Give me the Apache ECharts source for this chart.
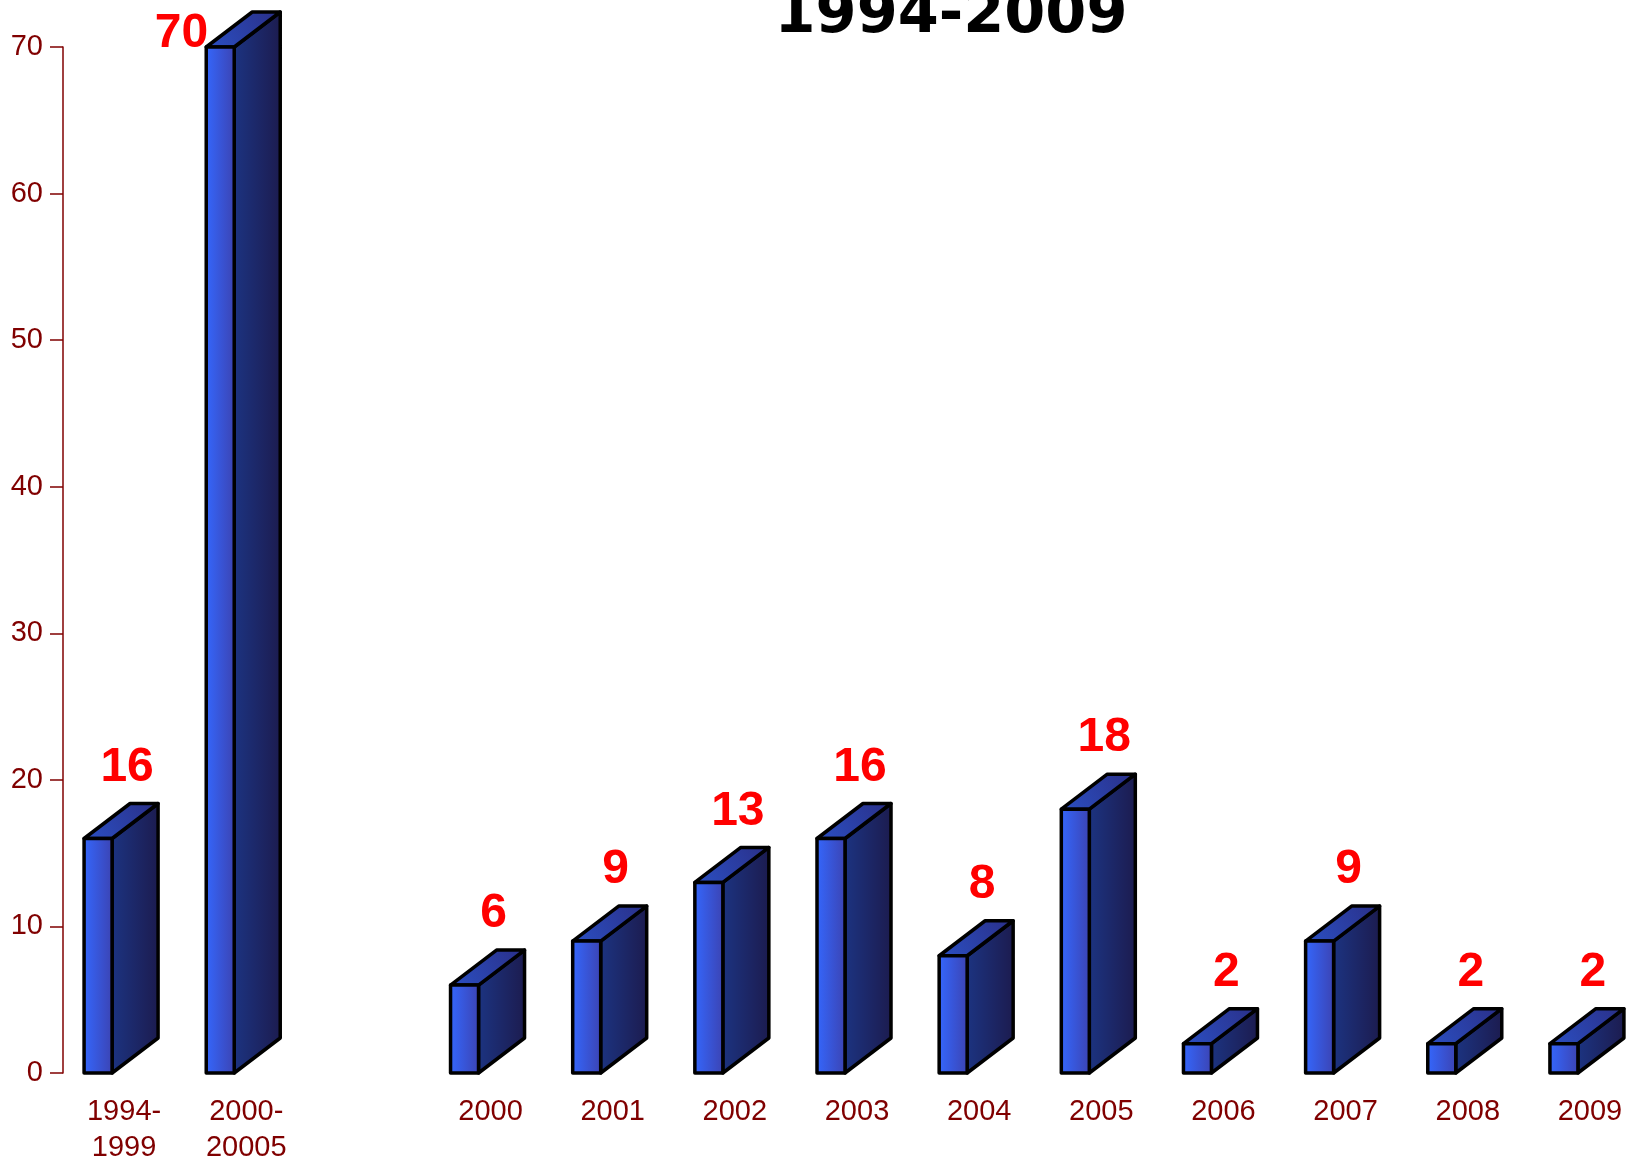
<!DOCTYPE html>
<html>
<head>
<meta charset="utf-8">
<script src="https://cdn.jsdelivr.net/npm/echarts@6/dist/echarts.min.js"></script>
<style>html,body{margin:0;padding:0;background:#fff;}#main{width:1635px;height:1164px;}</style>
</head>
<body>
<div id="main"></div>
<script>
var categories = ['1994-\n1999', '2000-\n20005', '', '2000', '2001', '2002', '2003', '2004', '2005', '2006', '2007', '2008', '2009'];
var values = [16, 70, null, 6, 9, 13, 16, 8, 18, 2, 9, 2, 2];
var yTicks = [0, 10, 20, 30, 40, 50, 60, 70];
var titleText = '1994-2009';

var chart = echarts.init(document.getElementById('main'), null, {renderer: 'canvas'});

var barData = [];
values.forEach(function (v, i) { if (v !== null) barData.push([i, v]); });

var FRONT_OFF = -40, FRONT_W = 28, DX = 46, DY = 35;

function renderItem(params, api) {
  var idx = api.value(0), val = api.value(1);
  var top = api.coord([idx, val]);
  var base = api.coord([idx, 0]);
  var x0 = top[0] + FRONT_OFF, x1 = x0 + FRONT_W;
  var yT = top[1], yB = base[1];
  var stroke = {stroke: '#000', lineWidth: 3.5, lineJoin: 'round'};
  var frontFill = new echarts.graphic.LinearGradient(0, 0, 1, 0, [
    {offset: 0, color: '#3468ff'}, {offset: 1, color: '#3c42b0'}]);
  var sideFill = new echarts.graphic.LinearGradient(0, 0, 1, 0, [
    {offset: 0, color: '#1c3482'}, {offset: 1, color: '#1c1b4e'}]);
  var topFill = new echarts.graphic.LinearGradient(0, 1, 1, 0, [
    {offset: 0, color: '#2b50c4'}, {offset: 1, color: '#2a2e86'}]);
  var labelY = yT - DY - 20;
  var font = 'bold 48px "Liberation Sans", Arial, sans-serif';
  var label;
  if (labelY - 34 < 0) {
    label = {type: 'text', style: {text: String(val), x: x0 + 2, y: yT - 13, align: 'right', verticalAlign: 'middle',
      fill: '#ff0000', font: font}};
  } else {
    label = {type: 'text', style: {text: String(val), x: top[0] + 3, y: labelY - 16, align: 'center', verticalAlign: 'middle',
      fill: '#ff0000', font: font}};
  }
  return {
    type: 'group',
    children: [
      {type: 'polygon', shape: {points: [[x1, yB], [x1 + DX, yB - DY], [x1 + DX, yT - DY], [x1, yT]]},
        style: Object.assign({fill: sideFill}, stroke)},
      {type: 'polygon', shape: {points: [[x0, yT], [x1, yT], [x1 + DX, yT - DY], [x0 + DX, yT - DY]]},
        style: Object.assign({fill: topFill}, stroke)},
      {type: 'rect', shape: {x: x0, y: yT, width: FRONT_W, height: yB - yT},
        style: Object.assign({fill: frontFill}, stroke)},
      label
    ]
  };
}

var option = {
  backgroundColor: '#ffffff',
  animation: false,
  grid: {left: 63, top: 47, height: 1026, width: 1588, containLabel: false, outerBoundsMode: 'none'},
  xAxis: {
    type: 'category', data: categories, boundaryGap: true,
    axisLine: {show: false}, axisTick: {show: false}, splitLine: {show: false},
    axisLabel: {interval: 0, color: '#800000', fontSize: 29, lineHeight: 36, margin: 21,
      fontFamily: '"Liberation Sans", Arial, sans-serif'}
  },
  yAxis: {
    type: 'value', min: yTicks[0], max: yTicks[yTicks.length - 1], interval: 10,
    axisLine: {show: true, lineStyle: {color: '#800000', width: 1.5}},
    axisTick: {show: true, length: 13, lineStyle: {color: '#800000', width: 1.5}},
    splitLine: {show: false},
    axisLabel: {color: '#800000', fontSize: 29, margin: 20, fontFamily: '"Liberation Sans", Arial, sans-serif'}
  },
  graphic: [{
    type: 'text', x: 951, y: 46,
    style: {text: titleText, align: 'center', verticalAlign: 'bottom', fill: '#000',
      font: 'bold 59px "DejaVu Sans", sans-serif'}
  }],
  series: [{
    type: 'custom', renderItem: renderItem, data: barData, clip: false,
    encode: {x: 0, y: 1}
  }]
};
chart.setOption(option);
</script>
</body>
</html>
